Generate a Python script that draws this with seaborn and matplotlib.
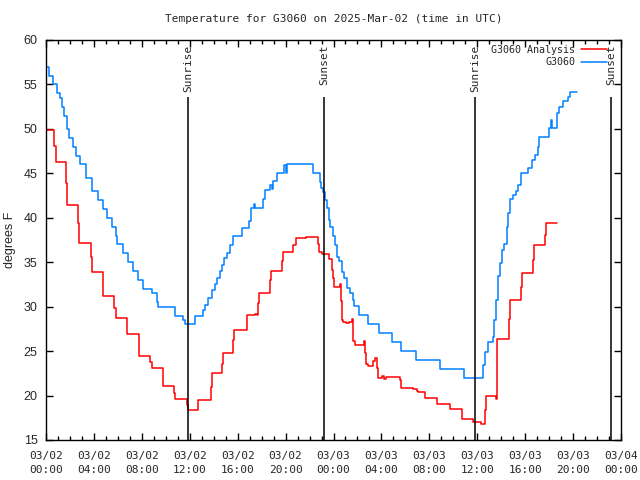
import matplotlib
matplotlib.use("Agg")
import matplotlib.pyplot as plt
import matplotlib.dates as mdates
import seaborn as sns
import pandas as pd

# Hours after 2025-03-02 00:00 UTC and temperatures (deg F)
analysis_hours = [0, 0.69, 0.81, 1.67, 1.78, 2.7, 2.78, 3.73, 3.81, 4.73, 4.78, 5.7, 5.82,
                  6.74, 6.79, 7.74, 7.79, 8.71, 8.82, 9.74, 9.79, 10.68, 10.74, 11.74, 11.83,
                  12.71, 13.75, 13.83, 14.72, 14.8, 15.63, 15.72, 16.78, 17.45, 17.59, 17.72,
                  17.8, 18.7, 18.76, 19.67, 19.81, 20.64, 20.84, 21.7, 22.68, 22.81, 23.01,
                  23.65, 23.85, 23.93, 24.04, 24.54, 24.6, 24.68, 24.79, 25.08, 25.29, 25.52,
                  25.6, 25.65, 25.79, 26.54, 26.62, 26.71, 26.9, 27.26, 27.45, 27.65, 27.74,
                  28.05, 28.21, 28.38, 29.55, 29.63, 30.66, 30.94, 31.08, 31.66, 32.66, 33.72,
                  34.7, 35.67, 36.28, 36.64, 36.73, 37.4, 37.56, 37.62, 37.67, 38.67, 38.73,
                  39.62, 39.71, 40.68, 40.73, 41.65, 41.74, 42.68]
analysis_temps = [49.9, 48.1, 46.3, 43.9, 41.4, 39.4, 37.2, 35.6, 33.9, 32.6, 31.2, 29.9, 28.7,
                  27.8, 26.9, 25.7, 24.5, 23.8, 23.1, 22.1, 21.1, 20.25, 19.6, 18.9, 18.4,
                  19.5, 21.0, 22.5, 23.6, 24.75, 26.3, 27.4, 29.1, 29.2, 29.1, 30.4,
                  31.5, 33.0, 34.0, 35.1, 36.1, 36.9, 37.7, 37.8, 37.0, 36.1, 35.9,
                  35.4, 34.1, 33.2, 32.25, 32.5, 30.6, 28.5, 28.3, 28.2, 28.3, 28.6,
                  27.4, 26.1, 25.7, 26.1, 24.75, 23.6, 23.3, 23.9, 24.2, 23.1, 22.0,
                  22.2, 21.9, 22.1, 21.75, 20.9, 20.7, 20.5, 20.4, 19.75, 19.0, 18.45,
                  17.4, 17.0, 16.8, 18.4, 20.0, 19.9, 19.6, 23.0, 26.4, 28.6, 30.75,
                  32.25, 33.75, 35.25, 36.9, 38.1, 39.4, 39.4]

station_hours = [0, 0.25, 0.56, 0.94, 1.17, 1.31, 1.5, 1.73, 1.94, 2.28, 2.5, 2.84, 3.34, 3.81,
                 4.37, 4.73, 5.07, 5.48, 5.84, 5.95, 6.45, 6.87, 7.29, 7.7, 8.07, 8.82, 9.24,
                 9.32, 10.77, 11.46, 11.6, 12.44, 13.1, 13.3, 13.55, 13.83, 14.1, 14.3, 14.52,
                 14.67, 14.86, 15.08, 15.36, 15.63, 16.34, 16.97, 17.09, 17.36, 17.45, 18.09,
                 18.28, 18.7, 18.85, 18.97, 19.26, 19.89, 20.03, 20.14, 22.26, 22.87, 22.98,
                 23.09, 23.26, 23.46, 23.6, 23.74, 23.98, 24.12, 24.32, 24.46, 24.69, 24.9,
                 25.1, 25.38, 25.65, 25.71, 26.15, 26.9, 27.82, 28.86, 29.63, 30.88, 32.89,
                 34.9, 36.45, 36.64, 36.92, 37.28, 37.42, 37.56, 37.76, 37.9, 38.1, 38.26,
                 38.46, 38.59, 38.73, 39.0, 39.2, 39.42, 39.65, 40.26, 40.54, 40.82, 41.04,
                 41.18, 41.98, 42.12, 42.22, 42.63, 42.85, 43.18, 43.55, 43.74, 44.3]
station_temps = [57, 56, 55, 54, 53.5, 52.5, 51.5, 50, 49, 48, 47, 46, 44.5, 43,
                 42, 41, 40, 39, 38, 37, 36, 35, 34, 33, 32, 31.5, 30.5,
                 30, 29, 28.5, 28, 29, 29.6, 30.2, 31, 31.9, 32.6, 33.2, 34,
                 34.7, 35.5, 36, 36.9, 38, 38.9, 39.6, 41.1, 41.6, 41.1, 42.1,
                 43.1, 43.7, 43.2, 44.1, 45, 45.9, 45, 46, 45, 44, 43.4,
                 42.9, 42, 41.1, 39.75, 39, 37.9, 36.9, 35.6, 35.1, 33.9, 33.2,
                 32.1, 31.5, 30.75, 30.1, 29.1, 28, 27, 26, 25, 24, 23,
                 22, 23.4, 24.9, 26, 26.55, 28.5, 30.75, 33.4, 34.9, 36.4, 37.1,
                 39, 40.5, 42.1, 42.6, 43, 43.7, 45, 45.6, 46.5, 47.1, 48,
                 49.05, 50.1, 51, 50.1, 51.75, 52.5, 53.1, 53.6, 54.1, 54.1]

sun_hours = [11.85, 23.2, 35.8, 47.2]
sun_labels = ["Sunrise", "Sunset", "Sunrise", "Sunset"]

series_names = ["G3060 Analysis", "G3060"]
series_colors = ["#ff0000", "#0080ff"]

start = pd.Timestamp("2025-03-02 00:00")
df = pd.concat([
    pd.DataFrame({"time": start + pd.to_timedelta(analysis_hours, unit="h"),
                  "temp": analysis_temps, "series": series_names[0]}),
    pd.DataFrame({"time": start + pd.to_timedelta(station_hours, unit="h"),
                  "temp": station_temps, "series": series_names[1]}),
])

sns.set_style("ticks")
plt.rcParams["font.family"] = ["DejaVu Sans Mono"]

fig = plt.figure(figsize=(6.4, 4.8), dpi=100)
ax = fig.add_axes([46 / 640, 40 / 480, 575 / 640, 400 / 480])

sns.lineplot(data=df, x="time", y="temp", hue="series", hue_order=series_names,
             palette=series_colors, estimator=None, drawstyle="steps-post",
             linewidth=1.1, ax=ax)

# sunrise / sunset markers
for h, lab in zip(sun_hours, sun_labels):
    t = start + pd.Timedelta(hours=h)
    ax.vlines(t, 15, 53.6, color="black", linewidth=1.1)
    ax.text(t, 59.5, lab, rotation=90, ha="center", va="top", fontsize=8)

ax.set_xlim(start, start + pd.Timedelta(hours=48))
ax.set_ylim(15, 60)
ax.set_yticks(range(15, 61, 5))
ax.xaxis.set_major_locator(mdates.HourLocator(interval=4))
ax.xaxis.set_minor_locator(mdates.HourLocator())
ax.xaxis.set_major_formatter(mdates.DateFormatter("%m/%d\n%H:%M"))
ax.tick_params(which="both", direction="in", top=True, right=True, labelsize=8,
               color="black", width=1)
ax.tick_params(which="major", length=5)
ax.tick_params(which="minor", length=3)
ax.tick_params(axis="x", which="major", pad=8)
ax.tick_params(axis="y", which="major", pad=6)
for lbl in ax.get_xticklabels():
    lbl.set_linespacing(1.5)
for lbl in ax.get_yticklabels():
    lbl.set_family(["Liberation Sans", "DejaVu Sans"])
    lbl.set_fontsize(9)
for s in ax.spines.values():
    s.set_color("black")
    s.set_linewidth(1)

ax.set_xlabel("")
ax.set_ylabel("degrees F", fontsize=9, family=["Liberation Sans", "DejaVu Sans"])
ax.yaxis.set_label_coords(-0.052, 0.5)
ax.set_title("Temperature for G3060 on 2025-Mar-02 (time in UTC)", fontsize=8, pad=13)

handles, labels = ax.get_legend_handles_labels()
ax.legend(handles, labels, loc="upper right", frameon=False, markerfirst=False,
          prop={"family": "DejaVu Sans Mono", "size": 7.2}, handlelength=2.6,
          handletextpad=0.6, labelspacing=0.25, borderaxespad=0.1,
          bbox_to_anchor=(0.985, 1.0))

fig.savefig("out.png", dpi=100)
